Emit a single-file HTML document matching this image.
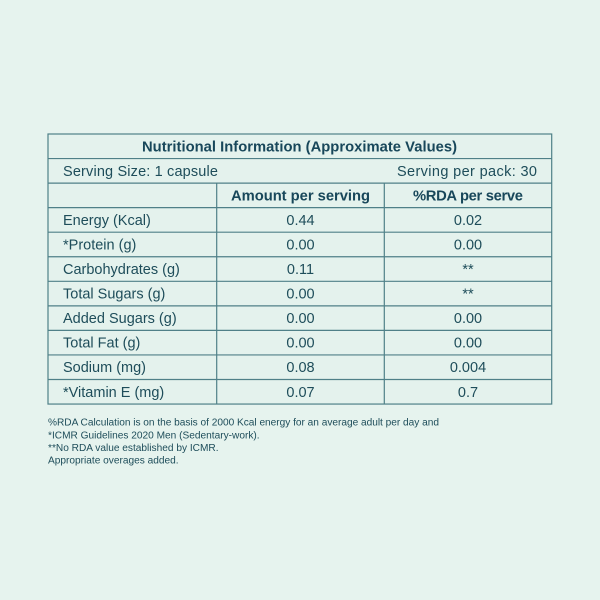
<!DOCTYPE html>
<html>
<head>
<meta charset="utf-8">
<style>
  html,body{margin:0;padding:0;background:#e6f3ee;}
  body{width:600px;height:600px;overflow:hidden;}
  svg{display:block;}
  text{font-family:"Liberation Sans",Arial,sans-serif;fill:#1e4d5a;}
  .r{font-size:14.5px;}
  .b{font-size:14.75px;font-weight:bold;fill:#18475a;}
  .f{font-size:10.15px;}
</style>
</head>
<body>
<svg width="600" height="600" viewBox="0 0 600 600" xmlns="http://www.w3.org/2000/svg">
  <rect x="0" y="0" width="600" height="600" fill="#e6f3ee"/>
  <rect x="48" y="134" width="503.7" height="270" fill="#e4f2ed"/>
  <g stroke="#4f8088" stroke-width="1.2" fill="none">
    <rect x="48" y="134" width="503.7" height="270.05"/>
    <line x1="48" y1="158.55" x2="551.7" y2="158.55"/>
    <line x1="48" y1="183.1" x2="551.7" y2="183.1"/>
    <line x1="48" y1="207.65" x2="551.7" y2="207.65"/>
    <line x1="48" y1="232.2" x2="551.7" y2="232.2"/>
    <line x1="48" y1="256.75" x2="551.7" y2="256.75"/>
    <line x1="48" y1="281.3" x2="551.7" y2="281.3"/>
    <line x1="48" y1="305.85" x2="551.7" y2="305.85"/>
    <line x1="48" y1="330.4" x2="551.7" y2="330.4"/>
    <line x1="48" y1="354.95" x2="551.7" y2="354.95"/>
    <line x1="48" y1="379.5" x2="551.7" y2="379.5"/>
    <line x1="216.7" y1="183.1" x2="216.7" y2="404.05"/>
    <line x1="384.3" y1="183.1" x2="384.3" y2="404.05"/>
  </g>

  <text class="b" x="142" y="151.3" textLength="315" lengthAdjust="spacing">Nutritional Information (Approximate Values)</text>
  <text class="r" x="63" y="175.8" textLength="155" lengthAdjust="spacing">Serving Size: 1 capsule</text>
  <text class="r" x="397" y="175.8" textLength="140" lengthAdjust="spacing">Serving per pack: 30</text>
  <text class="b" x="231" y="200.4" textLength="139" lengthAdjust="spacing">Amount per serving</text>
  <text class="b" x="413" y="200.4" textLength="110" lengthAdjust="spacing">%RDA per serve</text>

  <g class="r">
    <text class="r" x="63" y="224.9">Energy (Kcal)</text>
    <text class="r" x="300.5" y="224.9" text-anchor="middle">0.44</text>
    <text class="r" x="468" y="224.9" text-anchor="middle">0.02</text>

    <text class="r" x="63" y="249.5">*Protein (g)</text>
    <text class="r" x="300.5" y="249.5" text-anchor="middle">0.00</text>
    <text class="r" x="468" y="249.5" text-anchor="middle">0.00</text>

    <text class="r" x="63" y="274">Carbohydrates (g)</text>
    <text class="r" x="300.5" y="274" text-anchor="middle">0.11</text>
    <text class="r" x="468" y="274" text-anchor="middle">**</text>

    <text class="r" x="63" y="298.6">Total Sugars (g)</text>
    <text class="r" x="300.5" y="298.6" text-anchor="middle">0.00</text>
    <text class="r" x="468" y="298.6" text-anchor="middle">**</text>

    <text class="r" x="63" y="323.1">Added Sugars (g)</text>
    <text class="r" x="300.5" y="323.1" text-anchor="middle">0.00</text>
    <text class="r" x="468" y="323.1" text-anchor="middle">0.00</text>

    <text class="r" x="63" y="347.7">Total Fat (g)</text>
    <text class="r" x="300.5" y="347.7" text-anchor="middle">0.00</text>
    <text class="r" x="468" y="347.7" text-anchor="middle">0.00</text>

    <text class="r" x="63" y="372.2">Sodium (mg)</text>
    <text class="r" x="300.5" y="372.2" text-anchor="middle">0.08</text>
    <text class="r" x="468" y="372.2" text-anchor="middle">0.004</text>

    <text class="r" x="63" y="396.8">*Vitamin E (mg)</text>
    <text class="r" x="300.5" y="396.8" text-anchor="middle">0.07</text>
    <text class="r" x="468" y="396.8" text-anchor="middle">0.7</text>
  </g>

  <text class="f" x="48" y="425.6" textLength="391" lengthAdjust="spacing">%RDA Calculation is on the basis of 2000 Kcal energy for an average adult per day and</text>
  <text class="f" x="48" y="438.3">*ICMR Guidelines 2020 Men (Sedentary-work).</text>
  <text class="f" x="48" y="451">**No RDA value established by ICMR.</text>
  <text class="f" x="48" y="463.7">Appropriate overages added.</text>
</svg>
</body>
</html>
